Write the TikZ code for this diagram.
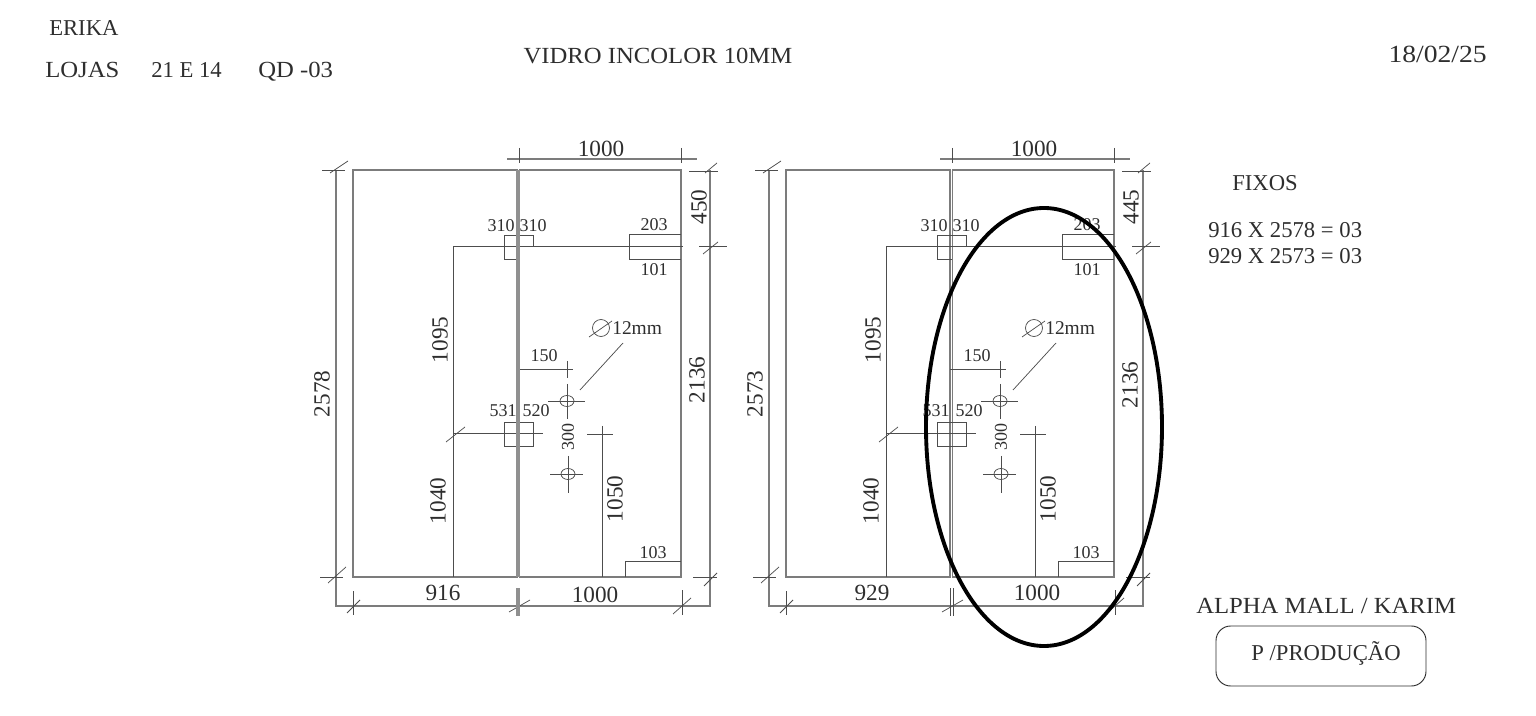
\documentclass[tikz,border=0pt]{standalone}
\usepackage{fontspec}
\setmainfont{Liberation Serif}
\newfontfamily\widefont[FakeStretch=1.07]{Liberation Serif}
\newfontfamily\datefont[FakeStretch=1.12]{Liberation Serif}
\definecolor{linegray}{HTML}{7C7C7C}
\definecolor{inkgray}{HTML}{2E2E2E}
\begin{document}
\begin{tikzpicture}[x=0.75pt, y=-0.75pt]
    \tikzstyle{frame} = [draw=linegray, line width=0.85pt]
    \tikzstyle{thin} = [draw=inkgray!85, line width=0.55pt]
    \tikzstyle{dim} = [inner sep=0pt, text=inkgray, font=\fontsize{17.4}{18}\selectfont]
    \tikzstyle{small} = [inner sep=0pt, text=inkgray, font=\fontsize{13.5}{14}\selectfont]
    \tikzstyle{title} = [inner sep=0pt, anchor=base west, text=inkgray, font=\fontsize{17}{18}\selectfont]
    \tikzstyle{wide} = [title, font=\fontsize{17.3}{18}\widefont]
  \useasboundingbox (0,0) rectangle (1536,716);
  % header
  \node[title] (client) at (49,36) {ERIKA};
  \node[wide] (lojas) at (45,78) {LOJAS};
  \node[title] (numbers) at (151,78) {21 E 14};
  \node[wide] (quadro) at (258,78) {QD -03};
  \node[wide, anchor=base] (glass) at (658,64) {VIDRO INCOLOR 10MM};
  \node[title, anchor=base east, font=\fontsize{18.5}{19}\datefont] (date) at (1487,63) {18/02/25};
  % the two panels share their drawing
  \foreach \pre/\dx in {l/0,r/433} {
  \begin{scope}[shift={(\dx,0)}, name prefix=\pre-]
    \draw[frame] (353,170) rectangle (517,577);
    \draw[frame] (519.5,170) rectangle (681,577);
    \draw[frame] (336,170) -- (336,606) -- (710,606) -- (710,170);
    \draw[frame] (507,159) -- (697,159);
    \draw[thin] (519,148) -- (519,163);
    \draw[thin] (681,148) -- (681,163);
    % ticks of the outer dimensions
    \draw[thin] (322,170) -- (345,170);
    \draw[thin] (330,173) -- (348,161);
    \draw[thin] (320,577) -- (343,577);
    \draw[thin] (328,583) -- (346,567);
    \draw[thin] (689,171) -- (718,171);
    \draw[thin] (705,173) -- (717,163);
    \draw[thin] (699,246) -- (727,246);
    \draw[thin] (703,254) -- (718,242);
    \draw[thin] (693,577) -- (717,577);
    \draw[thin] (704,586) -- (717,573);
    \draw[thin] (682,590) -- (682,615);
    \draw[thin] (673,614) -- (691,598);
    \draw[thin] (509,612) -- (530,600);
    % glass hardware
    \draw[thin] (683,246) -- (453,246) -- (453,577);
    \draw[thin] (519,259) -- (504,259) -- (504,235) -- (533,235) -- (533,247);
    \draw[thin] (681,234) -- (629,234) -- (629,259) -- (681,259);
    \draw[thin] (504,422) rectangle (533,446);
    \draw[thin] (453,433) -- (543,433);
    \draw[thin] (446,442) -- (465,427);
    \draw[thin] (625,577) -- (625,561) -- (681,561);
    \draw[thin] (602,426) -- (602,577);
    \draw[thin] (587,434) -- (613,434);
    % holes
    \draw[thin] (517,369) -- (573,369);
    \draw[thin] (567,361) -- (567,378);
    \draw[thin] (567,384) -- (567,419);
    \draw[thin] (548,401) -- (585,401);
    \draw[thin] (567,401) ellipse (7 and 5.5);
    \draw[thin] (568,456) -- (568,493);
    \draw[thin] (550,474) -- (583,474);
    \draw[thin] (568,474) ellipse (7 and 5.5);
    \draw[thin] (623,343) -- (580,390);
    \draw[thin] (601,328) circle (8.5);
    \draw[thin] (589,337) -- (612,321);
    \node[small, anchor=west, font=\fontsize{14.6}{15}\selectfont] (diam) at (612,328) {12mm};
    % labels
    \node[dim] (top) at (601,149) {1000};
    \node[small] (a) at (501,226) {310};
    \node[small] (b) at (533,226) {310};
    \node[small] (c) at (654,225) {203};
    \node[small] (d) at (654,270) {101};
    \node[small] (e) at (503,411) {531};
    \node[small] (f) at (536,411) {520};
    \node[small] (g) at (544,356) {150};
    \node[small] (h) at (653,553) {103};
    \node[small, rotate=90] (holes) at (568,437) {300};
    \node[dim, rotate=90] (upper) at (440,340) {1095};
    \node[dim, rotate=90] (lower) at (438,501) {1040};
    \node[dim, rotate=90] (lock) at (615,499) {1050};
  \end{scope}
  }
  % centre joint, wide on the left panel
  \draw[draw=linegray!85, line width=2.9pt] (518,170) -- (518,577);
  \draw[draw=linegray!85, line width=2.9pt] (518,588) -- (518,616);
  \draw[thin] (353,591) -- (353,615);
  \draw[thin] (347,613) -- (360,600);
  \draw[thin] (950,588) -- (950,616);
  \draw[thin] (953,588) -- (953,616);
  \draw[thin] (786,591) -- (786,615);
  \draw[thin] (780,613) -- (793,600);
  % what differs between the panels
  \node[dim, rotate=90] (heightl) at (322,394) {2578};
  \node[dim, rotate=90] (topl) at (699,207) {450};
  \node[dim, rotate=90] (lowl) at (697,380) {2136};
  \node[dim] (widthl) at (443,593) {916};
  \node[dim] (doorl) at (595,595) {1000};
  \node[dim, rotate=90] (heightr) at (755,394) {2573};
  \node[dim, rotate=90] (topr) at (1131,207) {445};
  \node[dim, rotate=90] (lowr) at (1130,385) {2136};
  \node[dim] (widthr) at (872,593) {929};
  \node[dim] (doorr) at (1037,593) {1000};
  % right column
  \node[title] (fixos) at (1232,191) {FIXOS};
  \node[wide, font=\fontsize{17}{18}\selectfont] (fixa) at (1208,238) {916 X 2578 = 03};
  \node[wide, font=\fontsize{17}{18}\selectfont] (fixb) at (1208,264) {929 X 2573 = 03};
  \node[wide] (mall) at (1196,613) {ALPHA MALL / KARIM};
  \node[draw=inkgray, line width=0.7pt, rounded corners=11pt, minimum width=157.5pt, minimum height=45pt, inner sep=0pt] (prodbox) at (1321,656) {};
  \node[title, anchor=base] (prod) at (1326,660) {P /PRODUÇÃO};
  % marking
  \draw[black, line width=2.9pt] (1044,427) ellipse (118 and 219);
\end{tikzpicture}
\end{document}
